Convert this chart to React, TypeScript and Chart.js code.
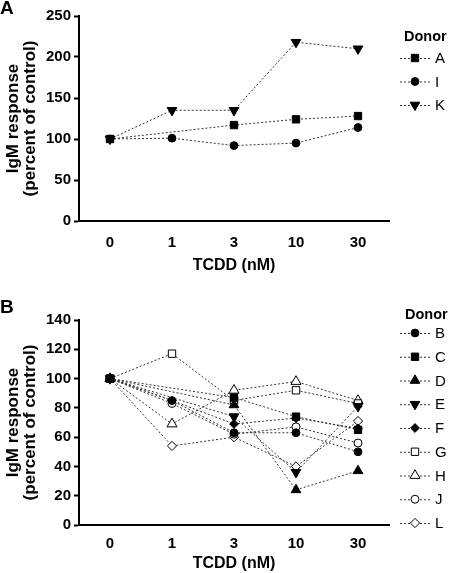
import React, { useEffect, useRef } from 'react';
import { Chart, registerables } from 'chart.js';

Chart.register(...registerables);

// ---------- DATA ----------
const doseLabels = ['0', '1', '3', '10', '30'];

// Panel A
const topDonorNames = ['A', 'I', 'K'];
const donorA = [100, null, 117, 124, 128];
const donorI = [100, 101, 92, 95, 114];
const donorK = [100, 135, 135, 218, 210];
const topYMin = 0;
const topYMax = 250;
const topYStep = 50;

// Panel B
const bottomDonorNames = ['B', 'C', 'D', 'E', 'F', 'G', 'H', 'J', 'L'];
const donorB = [100, 85, 63, 63, 50];
const donorC = [100, null, 87, 74, 65];
const donorD = [100, null, 82, 24, 37];
const donorE = [100, null, 74, 36, 81];
const donorF = [100, 85, 69, 73, 66];
const donorG = [100, 117, 85, 92, 83];
const donorH = [100, 69, 92, 98, 85];
const donorJ = [100, 83, 62, 67, 56];
const donorL = [100, 54, 60, 40, 71];
const bottomYMin = 0;
const bottomYMax = 140;
const bottomYStep = 20;

const xTitle = 'TCDD (nM)';
const yTitle = ['IgM response', '(percent of control)'];
const legendTitle = 'Donor';

// ---------- STYLES ----------
type Marker = { shape: string; filled: boolean; radius: number; rotation: number };
const markerFor: Record<string, Marker> = {
  A: { shape: 'rect', filled: true, radius: 5.2, rotation: 0 },
  I: { shape: 'circle', filled: true, radius: 3.9, rotation: 0 },
  K: { shape: 'triangle', filled: true, radius: 5.6, rotation: 180 },
  B: { shape: 'circle', filled: true, radius: 3.9, rotation: 0 },
  C: { shape: 'rect', filled: true, radius: 5.2, rotation: 0 },
  D: { shape: 'triangle', filled: true, radius: 5.6, rotation: 0 },
  E: { shape: 'triangle', filled: true, radius: 5.6, rotation: 180 },
  F: { shape: 'rectRot', filled: true, radius: 4.4, rotation: 0 },
  G: { shape: 'rect', filled: false, radius: 5.2, rotation: 0 },
  H: { shape: 'triangle', filled: false, radius: 5.8, rotation: 0 },
  J: { shape: 'circle', filled: false, radius: 4, rotation: 0 },
  L: { shape: 'rectRot', filled: false, radius: 4.6, rotation: 0 },
};

const FONT = '"Liberation Sans", Arial, Helvetica, sans-serif';
const LINE_COLOR = '#333';

function drawMarker(ctx: CanvasRenderingContext2D, m: Marker, x: number, y: number) {
  const r = m.radius;
  ctx.save();
  ctx.beginPath();
  if (m.shape === 'circle') {
    ctx.arc(x, y, r, 0, Math.PI * 2);
  } else if (m.shape === 'rect') {
    const s = r * Math.SQRT1_2;
    ctx.rect(x - s, y - s, 2 * s, 2 * s);
  } else if (m.shape === 'rectRot') {
    ctx.moveTo(x - r, y);
    ctx.lineTo(x, y - r);
    ctx.lineTo(x + r, y);
    ctx.lineTo(x, y + r);
    ctx.closePath();
  } else if (m.shape === 'triangle') {
    let rad = (m.rotation * Math.PI) / 180;
    ctx.moveTo(x + Math.sin(rad) * r, y - Math.cos(rad) * r);
    rad += (2 * Math.PI) / 3;
    ctx.lineTo(x + Math.sin(rad) * r, y - Math.cos(rad) * r);
    rad += (2 * Math.PI) / 3;
    ctx.lineTo(x + Math.sin(rad) * r, y - Math.cos(rad) * r);
    ctx.closePath();
  }
  ctx.fillStyle = m.filled ? '#000' : '#fff';
  ctx.fill();
  ctx.lineWidth = 1;
  ctx.strokeStyle = '#000';
  ctx.setLineDash([]);
  ctx.stroke();
  ctx.restore();
}

type PanelCfg = {
  names: string[];
  series: (number | null)[][];
  yMin: number;
  yMax: number;
  yStep: number;
  height: number;
  padTop: number;
  xAxisHeight: number;
  xTickPad: number;
  xTitlePadBottom: number;
  panelLabel: string;
  panelLabelY: number;
  legendTitleX: number;
  legendTitleY: number;
  legendFirstY: number;
  legendSpacing: number;
};

function makeOverlayPlugin(cfg: PanelCfg) {
  return {
    id: 'overlay' + cfg.panelLabel,
    afterDraw(chart: any) {
      const ctx: CanvasRenderingContext2D = chart.ctx;
      ctx.save();
      // panel label
      ctx.fillStyle = '#000';
      ctx.font = `bold 19px ${FONT}`;
      ctx.textAlign = 'left';
      ctx.textBaseline = 'middle';
      ctx.fillText(cfg.panelLabel, 0, cfg.panelLabelY);
      // legend title
      ctx.font = `bold 14.5px ${FONT}`;
      ctx.fillText(legendTitle, cfg.legendTitleX, cfg.legendTitleY);
      // legend items
      cfg.names.forEach((name, i) => {
        const y = cfg.legendFirstY + i * cfg.legendSpacing;
        ctx.save();
        ctx.strokeStyle = LINE_COLOR;
        ctx.lineWidth = 1;
        ctx.setLineDash([2, 2]);
        ctx.beginPath();
        ctx.moveTo(400, y + 0.5);
        ctx.lineTo(430, y + 0.5);
        ctx.stroke();
        ctx.restore();
        drawMarker(ctx, markerFor[name], 415, y);
        ctx.fillStyle = '#000';
        ctx.font = `15px ${FONT}`;
        ctx.textAlign = 'left';
        ctx.textBaseline = 'middle';
        ctx.fillText(name, 435, y + 1);
      });
      ctx.restore();
    },
  };
}

function Panel({ cfg }: { cfg: PanelCfg }) {
  const ref = useRef<HTMLCanvasElement | null>(null);
  useEffect(() => {
    if (!ref.current) return;
    const datasets = cfg.names.map((name, i) => {
      const m = markerFor[name];
      return {
        label: name,
        data: cfg.series[i],
        borderColor: LINE_COLOR,
        borderWidth: 1,
        borderDash: [2, 2],
        spanGaps: true,
        fill: false,
        tension: 0,
        pointStyle: m.shape,
        pointRadius: m.radius,
        pointRotation: m.rotation,
        pointBackgroundColor: m.filled ? '#000' : '#fff',
        pointBorderColor: '#000',
        pointBorderWidth: 1,
      };
    });
    const chart = new Chart(ref.current, {
      type: 'line',
      data: { labels: doseLabels, datasets },
      options: {
        responsive: false,
        animation: false,
        devicePixelRatio: 1,
        layout: { padding: { top: cfg.padTop, right: 60, left: 0, bottom: 0 } },
        plugins: { legend: { display: false }, tooltip: { enabled: false } },
        scales: {
          x: {
            type: 'category',
            offset: true,
            grid: { display: false, drawTicks: false, drawOnChartArea: false },
            border: { display: true, color: '#000', width: 2 },
            ticks: {
              color: '#000',
              padding: cfg.xTickPad,
              font: { family: FONT, size: 15, weight: 'bold' },
              maxRotation: 0,
            },
            title: {
              display: true,
              text: xTitle,
              color: '#000',
              font: { family: FONT, size: 16, weight: 'bold' },
              padding: { top: 0, bottom: cfg.xTitlePadBottom },
            },
            afterFit(scale: any) {
              scale.height = cfg.xAxisHeight;
            },
          },
          y: {
            min: cfg.yMin,
            max: cfg.yMax,
            grid: {
              display: true,
              drawOnChartArea: false,
              drawTicks: true,
              tickLength: 5,
              tickWidth: 2,
              tickColor: '#000',
              color: '#000',
            },
            border: { display: true, color: '#000', width: 2 },
            ticks: {
              stepSize: cfg.yStep,
              color: '#000',
              padding: 3,
              font: { family: FONT, size: 15, weight: 'bold' },
            },
            title: {
              display: true,
              text: yTitle,
              color: '#000',
              font: { family: FONT, size: 17, weight: 'bold', lineHeight: 1.0 },
              padding: { top: 5, bottom: 0 },
            },
            afterFit(scale: any) {
              scale.width = 79;
            },
          },
        },
      } as any,
      plugins: [makeOverlayPlugin(cfg)],
    });
    return () => chart.destroy();
  }, [cfg]);
  return (
    <canvas
      ref={ref}
      width={449}
      height={cfg.height}
      style={{ display: 'block', width: 449, height: cfg.height }}
    />
  );
}

const topCfg: PanelCfg = {
  names: topDonorNames,
  series: [donorA, donorI, donorK],
  yMin: topYMin,
  yMax: topYMax,
  yStep: topYStep,
  height: 280,
  padTop: 16,
  xAxisHeight: 59,
  xTickPad: 13,
  xTitlePadBottom: 5,
  panelLabel: 'A',
  panelLabelY: 9,
  legendTitleX: 404,
  legendTitleY: 37,
  legendFirstY: 58,
  legendSpacing: 23.5,
};

const bottomCfg: PanelCfg = {
  names: bottomDonorNames,
  series: [donorB, donorC, donorD, donorE, donorF, donorG, donorH, donorJ, donorL],
  yMin: bottomYMin,
  yMax: bottomYMax,
  yStep: bottomYStep,
  height: 293,
  padTop: 40,
  xAxisHeight: 48,
  xTickPad: 10,
  xTitlePadBottom: 0,
  panelLabel: 'B',
  panelLabelY: 28,
  legendTitleX: 405,
  legendTitleY: 35,
  legendFirstY: 53,
  legendSpacing: 23.75,
};

export default function App() {
  return (
    <div
      style={{
        position: 'fixed',
        left: 0,
        top: 0,
        width: 449,
        height: 573,
        background: '#fff',
        overflow: 'hidden',
      }}
    >
      <Panel cfg={topCfg} />
      <Panel cfg={bottomCfg} />
    </div>
  );
}
